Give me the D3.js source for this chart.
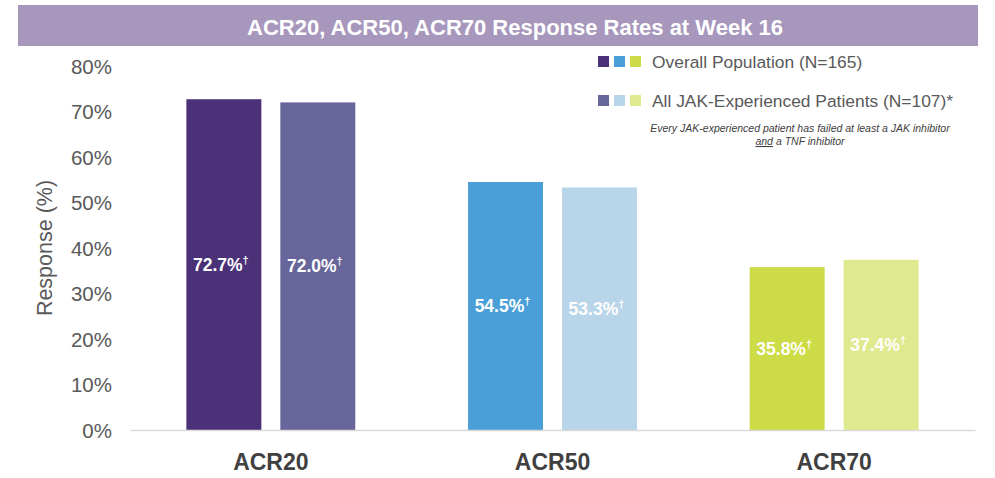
<!DOCTYPE html>
<html><head><meta charset="utf-8">
<script src="https://cdn.jsdelivr.net/npm/d3@7"></script>
<style>
body{margin:0;background:#fff;}
svg{display:block;font-family:Arial,"Liberation Sans",sans-serif;}
</style></head>
<body><svg id="chart" width="995" height="478"></svg>
<script>
const categories = ["ACR20", "ACR50", "ACR70"];
const seriesNames = ["Overall Population (N=165)", "All JAK-Experienced Patients (N=107)*"];
const overallValues = [72.7, 54.5, 35.8];
const jakValues = [72.0, 53.3, 37.4];
const yTicks = [0, 10, 20, 30, 40, 50, 60, 70, 80];
const overallColors = ["#4b3278", "#4a9fd8", "#cddb46"];
const jakColors = ["#68659a", "#b9d5e9", "#dfe98d"];

const svg = d3.select("#chart");

// title bar
svg.append("rect").attr("x", 18).attr("y", 5).attr("width", 960).attr("height", 41).attr("fill", "#a797bd");
svg.append("text").attr("x", 515).attr("y", 35).attr("text-anchor", "middle")
  .attr("fill", "#fff").attr("font-size", 22).attr("font-weight", "bold")
  .text("ACR20, ACR50, ACR70 Response Rates at Week 16");

const y = d3.scaleLinear().domain([0, 80]).range([430, 66]);
const x0 = d3.scaleBand().domain(categories).range([130, 975]).padding(0);
const x1 = d3.scaleBand().domain([0, 1]).range([0, x0.bandwidth()]).paddingInner(0.202).paddingOuter(0.6);

// y axis labels
const yAxis = d3.axisLeft(y).tickValues(yTicks).tickFormat(d => d + "%").tickSize(0).tickPadding(0);
const ya = svg.append("g").attr("transform", "translate(112,0)").call(yAxis);
ya.select(".domain").remove();
ya.selectAll("text").attr("font-size", 20.5).attr("fill", "#595959").attr("font-family", "Arial,'Liberation Sans',sans-serif").attr("dy", "0.35em");

svg.append("text").attr("transform", "translate(52,248) rotate(-90)").attr("text-anchor", "middle")
  .attr("font-size", 21.5).attr("fill", "#595959").text("Response (%)");

// bars
const data = categories.map((c, i) => ({cat: c, vals: [overallValues[i], jakValues[i]], cols: [overallColors[i], jakColors[i]]}));
const g = svg.append("g");
data.forEach(d => {
  d.vals.forEach((v, k) => {
    const bx = x0(d.cat) + x1(k);
    g.append("rect").attr("x", bx).attr("y", y(v)).attr("width", x1.bandwidth())
      .attr("height", y(0) - y(v)).attr("fill", d.cols[k]);
    const t = g.append("text").attr("x", bx + x1.bandwidth() / 2 - 3).attr("y", (y(v) + y(0)) / 2 + 6)
      .attr("text-anchor", "middle").attr("fill", "#fff").attr("font-weight", "bold").attr("font-size", 17.5);
    t.append("tspan").text(v.toFixed(1) + "%");
    t.append("tspan").attr("font-size", 11).attr("dy", -7).text("†");
  });
});

// x axis
const xAxis = d3.axisBottom(x0).tickSize(0).tickPadding(0);
const xa = svg.append("g").attr("transform", "translate(0,430)").call(xAxis);
xa.select(".domain").attr("stroke", "#d9d9d9").attr("stroke-width", 1.5);
xa.selectAll("text").attr("font-size", 23).attr("font-weight", "bold").attr("fill", "#404040")
  .attr("font-family", "Arial,'Liberation Sans',sans-serif").attr("dy", "0").attr("y", 40);

// legend
const legendRows = [{name: seriesNames[0], cols: overallColors, y: 62}, {name: seriesNames[1], cols: jakColors, y: 101}];
legendRows.forEach(r => {
  r.cols.forEach((c, i) => {
    svg.append("rect").attr("x", 598 + i * 16).attr("y", r.y - 6).attr("width", 11).attr("height", 11).attr("fill", c);
  });
  svg.append("text").attr("x", 652).attr("y", r.y + 6).attr("font-size", 17.4).attr("fill", "#595959").text(r.name);
});
const note = svg.append("text").attr("x", 800).attr("text-anchor", "middle").attr("font-size", 10.5)
  .attr("font-style", "italic").attr("fill", "#404040");
note.append("tspan").attr("x", 800).attr("y", 132).text("Every JAK-experienced patient has failed at least a JAK inhibitor");
const l2 = note.append("tspan").attr("x", 800).attr("y", 145);
l2.append("tspan").attr("text-decoration", "underline").text("and");
l2.append("tspan").text(" a TNF inhibitor");
</script></body></html>
